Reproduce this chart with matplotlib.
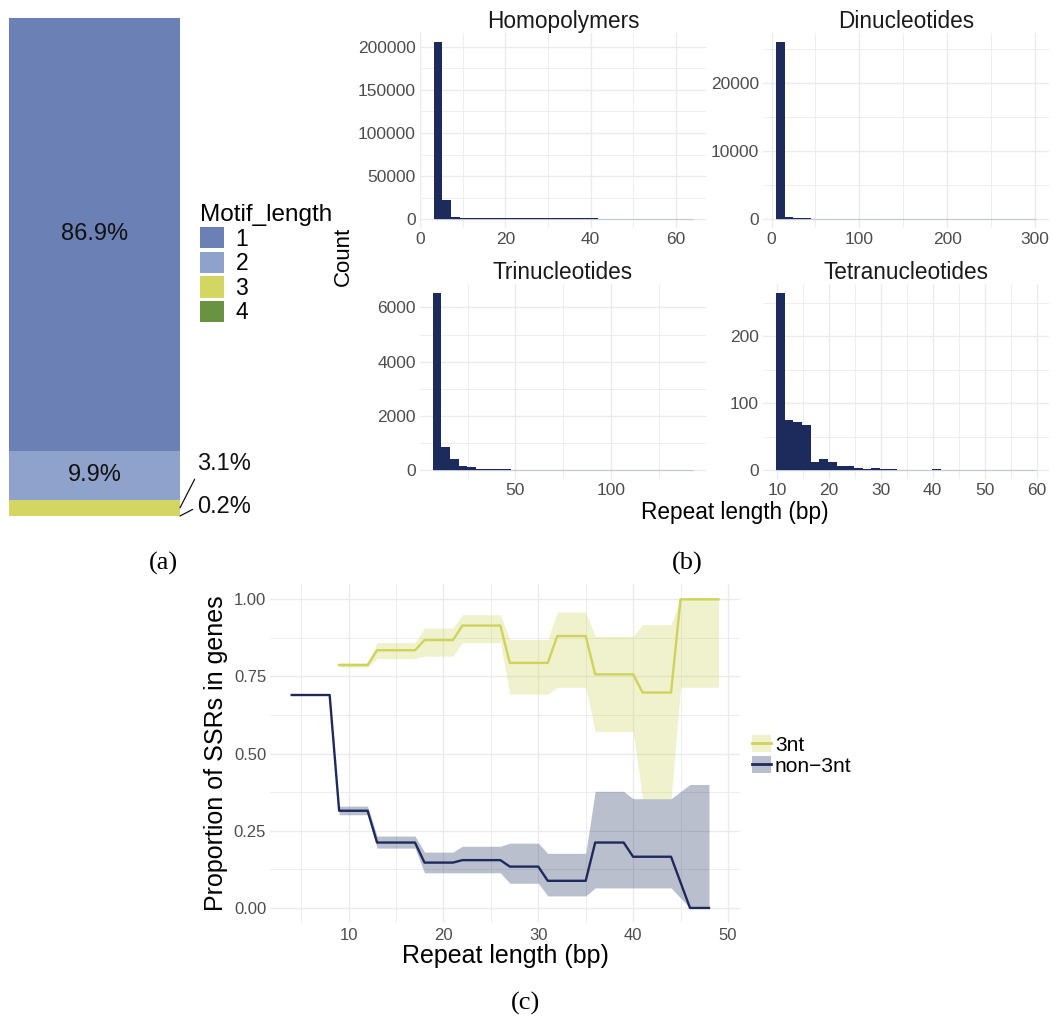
import numpy as np
import matplotlib.pyplot as plt
from matplotlib.patches import Patch
from matplotlib.lines import Line2D
from matplotlib.ticker import MultipleLocator

plt.rcParams['font.family'] = ['Liberation Sans', 'DejaVu Sans']

# (a) share of SSRs by motif length
motif_labels = ['1', '2', '3', '4']
motif_pct = [86.9, 9.9, 3.1, 0.2]
motif_colors = ['#6b81b5', '#8fa2cb', '#d3d663', '#6a9341']

# (b) repeat length histograms (30 bins each, counts)
hist_titles = ['Homopolymers', 'Dinucleotides', 'Trinucleotides', 'Tetranucleotides']
hist_ranges = [(3.1, 64.1), (5.07, 300.9), (6.7, 143.2), (9.8, 59.9)]
homo_counts = [205000, 22400, 2700, 1700, 1500, 1450, 1400, 1400, 1350, 1350,
               1300, 1300, 1250, 1250, 1200, 1200, 1200, 1150, 1100, 0,
               0, 0, 0, 0, 0, 0, 0, 0, 0, 0]
dinuc_counts = [26030, 343, 150, 130, 120, 110, 100, 100, 90, 0,
                0, 110, 100, 0, 0, 0, 0, 0, 0, 0,
                0, 0, 0, 0, 0, 0, 0, 0, 0, 100]
tri_counts = [6540, 860, 417, 160, 123, 50, 45, 35, 35, 30,
              30, 30, 30, 28, 28, 28, 28, 28, 0, 30,
              0, 30, 0, 0, 30, 0, 0, 0, 30, 30]
tetra_counts = [265, 75, 72, 68, 12, 17, 12, 6, 6, 3,
                2, 3, 2, 2, 0, 0, 0, 0, 2, 0,
                1, 0, 0, 0, 0, 0, 1, 0, 0, 1]
hist_counts = [homo_counts, dinuc_counts, tri_counts, tetra_counts]
hist_xstep = [20, 100, 50, 10]
hist_ystep = [50000, 10000, 2000, 100]

# (c) proportion of SSRs in genes, runs of repeat lengths sharing a value
tri_start = [9, 13, 18, 22, 27, 32, 36, 41, 45]
tri_end = [12, 17, 21, 26, 31, 35, 40, 44, 49]
tri_prop = [0.787, 0.835, 0.868, 0.915, 0.794, 0.881, 0.757, 0.698, 1.0]
tri_lo = [0.780, 0.808, 0.816, 0.860, 0.693, 0.715, 0.572, 0.354, 0.715]
tri_hi = [0.795, 0.860, 0.907, 0.950, 0.870, 0.959, 0.880, 0.918, 1.0]

non_start = [4, 9, 13, 18, 22, 27, 31, 36, 40, 46]
non_end = [8, 12, 17, 21, 26, 30, 35, 39, 44, 48]
non_prop = [0.690, 0.315, 0.212, 0.147, 0.155, 0.134, 0.088, 0.212, 0.166, 0.0]
non_lo = [np.nan, 0.302, 0.194, 0.114, 0.114, 0.080, 0.039, 0.065, 0.065, 0.0]
non_hi = [np.nan, 0.330, 0.233, 0.181, 0.200, 0.210, 0.177, 0.378, 0.354, 0.400]

NAVY = '#1d2b5c'
YELLOW = '#cfd35b'
GRID = '#ebebeb'
TICK = '#4d4d4d'

W, H = 1053, 1021
fig = plt.figure(figsize=(W / 100, H / 100), dpi=100)


def box(l, t, r, b):
    return [l / W, 1 - b / H, (r - l) / W, (b - t) / H]


def style(ax, size):
    for s in ax.spines.values():
        s.set_visible(False)
    ax.grid(which='major', color=GRID, lw=1.0)
    ax.grid(which='minor', color=GRID, lw=0.6)
    ax.set_axisbelow(True)
    ax.tick_params(which='both', length=0, labelsize=size, labelcolor=TICK, pad=3)


# ---- (a) stacked bar
axa = fig.add_axes(box(9, 17.7, 180, 516.5))
bottom = 0
centers = {}
for lab, p, c in reversed(list(zip(motif_labels, motif_pct, motif_colors))):
    axa.bar(0.5, p, bottom=bottom, width=1, color=c, linewidth=0)
    centers[lab] = bottom + p / 2
    bottom += p
axa.set_xlim(0, 1)
axa.set_ylim(0, bottom)
axa.axis('off')
for lab, p in zip(motif_labels[:2], motif_pct[:2]):
    axa.text(0.5, centers[lab], f'{p}%', ha='center', va='center', fontsize=17, color='#111111')
for lab, p, off, rel in [('3', motif_pct[2], (16.7, 43.5), (0, 0)),
                         ('4', motif_pct[3], (16.7, 8.7), (0, 0.5))]:
    axa.annotate(f'{p}%', xy=(1, centers[lab]), xytext=off, textcoords='offset pixels',
                 ha='left', va='center', fontsize=17, color='#111111', annotation_clip=False,
                 arrowprops=dict(arrowstyle='-', color='#111111', lw=0.9, relpos=rel,
                                 shrinkA=1, shrinkB=0))

fig.legend(handles=[Patch(facecolor=c, edgecolor='none') for c in motif_colors],
           labels=motif_labels, title='Motif_length', loc='upper left',
           bbox_to_anchor=(200 / W, 1 - 204 / H), frameon=False, fontsize=16.5,
           title_fontsize=17.5, handlelength=1.05, handleheight=1.05, handletextpad=0.5,
           labelspacing=0.05, borderpad=0, borderaxespad=0, alignment='left')

# ---- (b) histograms
cols = [(420, 706), (763, 1049)]
rows = [(33.4, 228.2), (283.8, 479.2)]
for i, (title, rng, counts) in enumerate(zip(hist_titles, hist_ranges, hist_counts)):
    l, r = cols[i % 2]
    t, b = rows[i // 2]
    ax = fig.add_axes(box(l, t, r, b))
    style(ax, 12.5)
    edges = np.linspace(rng[0], rng[1], len(counts) + 1)
    ax.hlines(0, edges[0], edges[-1], color='#c4c8d6', lw=0.8, zorder=1)
    ax.bar(edges[:-1], counts, width=np.diff(edges), align='edge', color=NAVY,
           linewidth=0, zorder=2)
    span = rng[1] - rng[0]
    if i == 0:
        ax.set_xlim(-0.1, rng[1] + 0.05 * span)
    elif i == 2:
        ax.set_xlim(0.1, 149.8)
    else:
        ax.set_xlim(rng[0] - 0.05 * span, rng[1] + 0.05 * span)
    top = max(counts)
    ax.set_ylim(-0.05 * top, 1.05 * top)
    ax.xaxis.set_major_locator(MultipleLocator(hist_xstep[i]))
    ax.xaxis.set_minor_locator(MultipleLocator(hist_xstep[i] / 2))
    ax.yaxis.set_major_locator(MultipleLocator(hist_ystep[i]))
    ax.yaxis.set_minor_locator(MultipleLocator(hist_ystep[i] / 2))
    ax.set_title(title, fontsize=16.3, color='#1a1a1a', pad=2.5)

fig.text(343 / W, 1 - 256 / H, 'Count', rotation=90, ha='center', va='center', fontsize=16)
fig.text(734.5 / W, 1 - 513 / H, 'Repeat length (bp)', ha='center', va='center', fontsize=16.3)

# ---- (c) proportion in genes
axc = fig.add_axes(box(270.4, 583.9, 739.8, 923.4))
style(axc, 12)


def runs(start, end, vals):
    xs, ys = [], []
    for s, e, v in zip(start, end, vals):
        xs += [s, e]
        ys += [v, v]
    return np.array(xs), np.array(ys)


x, lo = runs(tri_start, tri_end, tri_lo)
_, hi = runs(tri_start, tri_end, tri_hi)
_, y = runs(tri_start, tri_end, tri_prop)
axc.fill_between(x, lo, hi, color=YELLOW, alpha=0.3, linewidth=0)
axc.plot(x, y, color=YELLOW, lw=1.7)

x, lo = runs(non_start, non_end, non_lo)
_, hi = runs(non_start, non_end, non_hi)
_, y = runs(non_start, non_end, non_prop)
axc.fill_between(x, lo, hi, color=NAVY, alpha=0.3, linewidth=0)
axc.plot(x, y, color=NAVY, lw=1.7)

axc.set_xlim(1.75, 51.25)
axc.set_ylim(-0.05, 1.05)
axc.xaxis.set_major_locator(MultipleLocator(10))
axc.xaxis.set_minor_locator(MultipleLocator(5))
axc.yaxis.set_major_locator(MultipleLocator(0.25))
axc.yaxis.set_minor_locator(MultipleLocator(0.125))
axc.yaxis.set_major_formatter(lambda v, p: f'{v:.2f}')
axc.set_xlabel('Repeat length (bp)', fontsize=18, labelpad=1)
axc.set_ylabel('Proportion of SSRs in genes', fontsize=18, labelpad=4)

fig.legend(handles=[(Patch(facecolor=YELLOW, alpha=0.3, edgecolor='none'), Line2D([], [], color=YELLOW, lw=2)),
                    (Patch(facecolor=NAVY, alpha=0.3, edgecolor='none'), Line2D([], [], color=NAVY, lw=2))],
           labels=['3nt', 'non\u22123nt'], loc='upper left', bbox_to_anchor=(752 / W, 1 - 735 / H),
           frameon=False, fontsize=15, handlelength=0.9, handleheight=0.9, handletextpad=0.2,
           labelspacing=0.05, borderpad=0, borderaxespad=0)

# panel captions
for lab, px, py in [('(a)', 163, 563), ('(b)', 687, 563), ('(c)', 525, 1003)]:
    fig.text(px / W, 1 - py / H, lab, ha='center', va='center', fontsize=19,
             family='Liberation Serif')

fig.savefig('out.png', dpi=100)
